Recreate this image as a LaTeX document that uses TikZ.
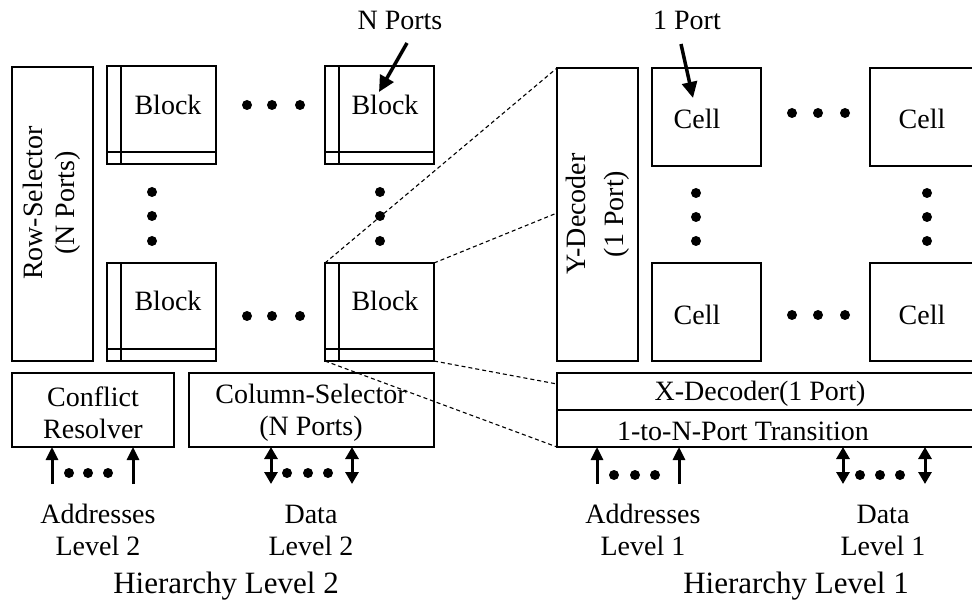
\documentclass[tikz,border=0pt]{standalone}
\usepackage{fontspec}
\setmainfont{Liberation Serif}
\usetikzlibrary{arrows.meta,calc}
\begin{document}
\begin{tikzpicture}[x=1pt,y=-1pt,
  box/.style={draw, line width=1.3pt, fill=white, anchor=north west, inner sep=0pt, outer sep=0pt},
  blockbox/.style={box, minimum width=109pt, minimum height=98pt,
    path picture={
      \draw[line width=1.3pt] ([xshift=14pt]path picture bounding box.north west) -- ([xshift=14pt]path picture bounding box.south west);
      \draw[line width=1.3pt] ([yshift=12pt]path picture bounding box.south west) -- ([yshift=12pt]path picture bounding box.south east);
    }},
  cellbox/.style={box, minimum width=109pt, minimum height=98pt},
  txt/.style={font=\fontsize{28}{32}\selectfont, inner sep=0pt, align=center},
  bigtxt/.style={font=\fontsize{31}{36}\selectfont, inner sep=0pt},
  dot/.style={circle, fill=black, inner sep=0pt, minimum size=10pt},
  zoomline/.style={line width=1.1pt, dash pattern=on 4pt off 3pt},
  inarrow/.style={line width=3pt, -{Triangle[length=13pt,width=12pt]}},
  bidarrow/.style={line width=3pt, {Triangle[length=12pt,width=13pt]}-{Triangle[length=12pt,width=13pt]}},
  callout/.style={line width=3.5pt, -{Triangle[length=16pt,width=15pt]}}
]
\clip (0,0) rectangle (972,609);
\fill[white] (0,0) rectangle (972,609);

% ---------- Hierarchy level 2 ----------
\node[box, minimum width=81pt, minimum height=294pt] (rs) at (12,67) {};
\node[txt, rotate=90] (rst) at (52,203) {Row-Selector\\(N Ports)};

\node[blockbox] (b11) at (107,66) {};
\node[blockbox] (b12) at (325,66) {};
\node[blockbox] (b21) at (107,263) {};
\node[blockbox] (b22) at (325,263) {};
\node[txt] (b11t) at (168,105) {Block};
\node[txt] (b12t) at (385,105) {Block};
\node[txt] (b21t) at (168,301) {Block};
\node[txt] (b22t) at (385,301) {Block};

\foreach \x [count=\i] in {247,272,300} {
  \node[dot] (h1\i) at (\x,105) {};
  \node[dot] (h2\i) at (\x,316) {};
}
\foreach \y [count=\i] in {192,216,241} {
  \node[dot] (v1\i) at (152,\y) {};
  \node[dot] (v2\i) at (380,\y) {};
}

\node[box, minimum width=162pt, minimum height=74pt] (cr) at (12,373) {};
\node[txt] (crt) at (93,413) {Conflict\\Resolver};
\node[box, minimum width=245pt, minimum height=74pt] (cs) at (189,373) {};
\node[txt] (cst) at (311,413) {Column-Selector\\(N Ports)};

\node[txt] (np) at (400,20) {N Ports};
\coordinate (npa) at (407,43);
\draw[callout] (npa) -- (379,92);

% addresses / data level 2
\coordinate (a2a) at (52,484);
\coordinate (a2b) at (133,484);
\draw[inarrow] (a2a) -- (a2a |- cr.south);
\draw[inarrow] (a2b) -- (a2b |- cr.south);
\foreach \x [count=\i] in {69,88,108} \node[dot] (ad2\i) at (\x,473) {};
\coordinate (d2a) at (271,484);
\coordinate (d2b) at (352,484);
\draw[bidarrow] (d2a) -- (d2a |- cs.south);
\draw[bidarrow] (d2b) -- (d2b |- cs.south);
\foreach \x [count=\i] in {287,308,328} \node[dot] (dd2\i) at (\x,473) {};

\node[txt] (al2) at (98,530) {Addresses\\Level 2};
\node[txt] (dl2) at (311,530) {Data\\Level 2};
\node[bigtxt] (hl2) at (226,586) {Hierarchy Level 2};

% ---------- zoom lines ----------
\coordinate (z1) at (557,68);
\coordinate (z2) at (557,213);
\coordinate (z3) at (557,384);
\coordinate (z4) at (557,447);
\draw[zoomline] (b22.north west) -- (z1);
\draw[zoomline] (b22.north east) -- (z2);
\draw[zoomline] (b22.south east) -- (z3);
\draw[zoomline] (b22.south west) -- (z4);

% ---------- Hierarchy level 1 ----------
\node[box, minimum width=81pt, minimum height=293pt] (yd) at (557,68) {};
\node[txt, rotate=90] (ydt) at (598,214) {Y-Decoder\\[6pt](1 Port)};

\node[cellbox] (c11) at (652,68) {};
\node[cellbox] (c12) at (870,68) {};
\node[cellbox] (c21) at (652,263) {};
\node[cellbox] (c22) at (870,263) {};
\node[txt] (c11t) at (697,119) {Cell};
\node[txt] (c12t) at (922,119) {Cell};
\node[txt] (c21t) at (697,315) {Cell};
\node[txt] (c22t) at (922,315) {Cell};

\foreach \x [count=\i] in {792,818,845} {
  \node[dot] (k1\i) at (\x,113) {};
  \node[dot] (k2\i) at (\x,315) {};
}
\foreach \y [count=\i] in {193,217,241} {
  \node[dot] (w1\i) at (696,\y) {};
  \node[dot] (w2\i) at (927,\y) {};
}

\node[box, minimum width=430pt, minimum height=37pt] (xd) at (557,373) {};
\node[box, minimum width=430pt, minimum height=37pt] (tr) at (557,410) {};
\node[txt] (xdt) at (760,394) {X-Decoder(1 Port)};
\node[txt] (trt) at (743,431) {1-to-N-Port Transition};

\node[txt] (op) at (687,20) {1 Port};
\coordinate (opa) at (681,44);
\draw[callout] (opa) -- (693,98);

% addresses / data level 1
\coordinate (a1a) at (597,484);
\coordinate (a1b) at (679,484);
\draw[inarrow] (a1a) -- (a1a |- tr.south);
\draw[inarrow] (a1b) -- (a1b |- tr.south);
\foreach \x [count=\i] in {614,635,655} \node[dot] (ad1\i) at (\x,475) {};
\coordinate (d1a) at (843,484);
\coordinate (d1b) at (925,484);
\draw[bidarrow] (d1a) -- (d1a |- tr.south);
\draw[bidarrow] (d1b) -- (d1b |- tr.south);
\foreach \x [count=\i] in {860,880,900} \node[dot] (dd1\i) at (\x,475) {};

\node[txt] (al1) at (643,530) {Addresses\\Level 1};
\node[txt] (dl1) at (883,530) {Data\\Level 1};
\node[bigtxt] (hl1) at (796,586) {Hierarchy Level 1};
\end{tikzpicture}
\end{document}
